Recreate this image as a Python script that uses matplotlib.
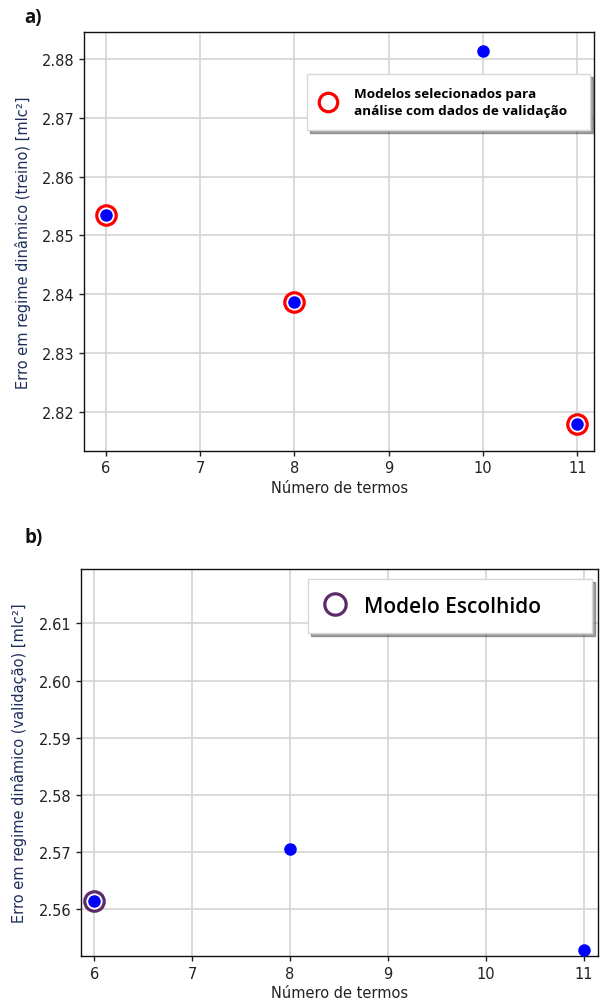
import matplotlib
matplotlib.use("Agg")
import matplotlib.pyplot as plt

plt.rcParams["font.family"] = ["DejaVu Sans"]

# Training-set dynamic error per model size
terms_train = [6, 8, 10, 11]
err_train = [2.8535, 2.8386, 2.8814, 2.8179]
selected_terms = [6, 8, 11]
selected_err = [2.8535, 2.8386, 2.8179]

# Validation-set dynamic error for the selected models
terms_val = [6, 8, 11]
err_val = [2.5615, 2.5705, 2.5529]
chosen_terms = [6]
chosen_err = [2.5615]

x_ticks = [6, 7, 8, 9, 10, 11]
yticks_a = [2.82, 2.83, 2.84, 2.85, 2.86, 2.87, 2.88]
yticks_b = [2.56, 2.57, 2.58, 2.59, 2.60, 2.61]

label_color = "#1f2f5c"
tick_color = "#222222"
legend_font = ["Open Sans", "DejaVu Sans"]

fig = plt.figure(figsize=(6.03, 10.03), dpi=100)
ax_a = fig.add_axes([0.1398, 0.5497, 0.8458, 0.4171])
ax_b = fig.add_axes([0.1343, 0.0456, 0.8574, 0.3861])


def style_axes(ax):
    ax.grid(True, color="#d4d4d4", linewidth=1.2, zorder=0)
    ax.set_axisbelow(True)
    for sp in ax.spines.values():
        sp.set_linewidth(1.0)
        sp.set_color("#111111")
    ax.tick_params(labelsize=10.5, colors=tick_color, length=3.5, width=1.0)
    ax.set_xticks(x_ticks)
    ax.set_xlabel("Número de termos", fontsize=10.5, color=tick_color,
                  labelpad=3)


# ---- panel a ----
style_axes(ax_a)
ax_a.plot(selected_terms, selected_err, linestyle="none", marker="o",
          markersize=14, markerfacecolor="white", markeredgecolor="#ff0000",
          markeredgewidth=2.3, zorder=3,
          label="Modelos selecionados para\nanálise com dados de validação")
ax_a.plot(terms_train, err_train, linestyle="none", marker="o",
          markersize=8, color="#0000ff", zorder=4)
ax_a.set_xlim(5.772, 11.18)
ax_a.set_ylim(2.81335, 2.88456)
ax_a.set_yticks(yticks_a)
ax_a.set_ylabel("Erro em regime dinâmico (treino) [mlc²]", fontsize=10.5,
                color=label_color, labelpad=8)
leg_a = ax_a.legend(loc="upper left", bbox_to_anchor=(0.437, 0.769, 0.555, 0.131),
                    mode="expand", borderaxespad=0, shadow=True,
                    fancybox=False, framealpha=1.0, edgecolor="#d8d8d8",
                    prop={"family": legend_font, "weight": "bold", "size": 9.7},
                    handletextpad=1.3, borderpad=0.95, markerscale=0.95,
                    handlelength=1.2)
for t in leg_a.get_texts():
    t.set_linespacing(1.4)

# ---- panel b ----
style_axes(ax_b)
ax_b.plot(chosen_terms, chosen_err, linestyle="none", marker="o",
          markersize=14, markerfacecolor="white", markeredgecolor="#5c2a6b",
          markeredgewidth=2.3, zorder=3, label="Modelo Escolhido")
ax_b.plot(terms_val, err_val, linestyle="none", marker="o",
          markersize=8, color="#0000ff", zorder=4)
ax_b.set_xlim(5.864, 11.148)
ax_b.set_ylim(2.5518, 2.6195)
ax_b.set_yticks(yticks_b)
ax_b.set_ylabel("Erro em regime dinâmico (validação) [mlc²]", fontsize=10.5,
                color=label_color, labelpad=8)
ax_b.legend(loc="upper left", bbox_to_anchor=(0.439, 0.832, 0.549, 0.142),
            mode="expand", borderaxespad=0, shadow=True, fancybox=False,
            framealpha=1.0, edgecolor="#d8d8d8",
            prop={"family": legend_font, "weight": "semibold", "size": 15},
            handletextpad=0.9, borderpad=0.8, markerscale=1.1,
            handlelength=1.0)

fig.text(0.040, 0.982, "a)", fontsize=13.5, fontweight="bold",
         family=legend_font, color="#111111", va="center")
fig.text(0.040, 0.464, "b)", fontsize=13.5, fontweight="bold",
         family=legend_font, color="#111111", va="center")

fig.savefig("out.png", dpi=100)
